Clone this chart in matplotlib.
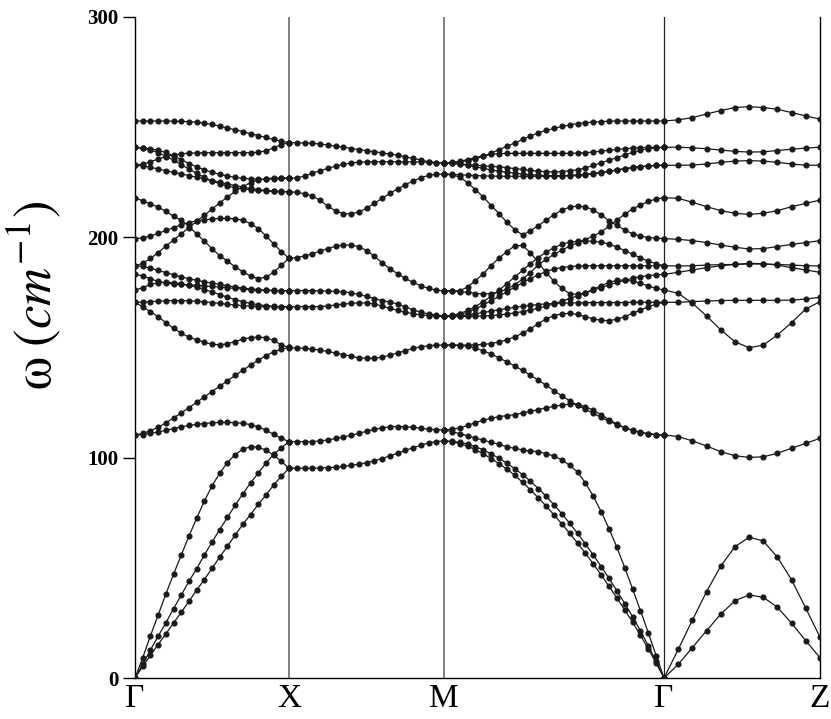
import numpy as np
import matplotlib
matplotlib.use("Agg")
import matplotlib.pyplot as plt

plt.rcParams['mathtext.fontset'] = 'stix'

# high-symmetry points and their path positions
labels = ['Γ', 'X', 'M', 'Γ', 'Z']
kpos = [0, 154, 309, 529, 685]

# frequencies (cm^-1), one list per band along each segment
gamma_x = [
    [252.8, 252.8, 252.8, 252.8, 252.8, 252.7, 252.6, 252.5, 252.3, 251.8, 251.2, 250.5, 249.6, 248.8, 248.0, 247.0, 246.2, 245.3, 244.4, 243.6, 243.0],
    [232.7, 233.2, 234.3, 235.5, 236.6, 237.4, 237.9, 238.2, 238.3, 238.4, 238.4, 238.4, 238.4, 238.4, 238.4, 238.4, 238.6, 239.3, 240.6, 242.1, 243.0],
    [240.8, 240.6, 240.2, 239.5, 238.5, 237.0, 235.2, 233.5, 232.0, 230.6, 229.5, 228.6, 227.8, 227.2, 226.8, 226.5, 226.4, 226.4, 226.5, 226.7, 226.8],
    [240.8, 240.4, 239.6, 238.4, 236.8, 235.0, 233.0, 231.0, 229.0, 227.2, 225.6, 224.3, 223.3, 222.5, 222.0, 221.6, 221.3, 221.0, 220.8, 220.7, 220.7],
    [232.7, 232.4, 231.8, 231.0, 230.2, 229.5, 228.8, 228.0, 227.3, 226.5, 225.7, 225.0, 224.2, 223.5, 222.8, 222.2, 221.7, 221.3, 221.0, 220.8, 220.7],
    [199.4, 199.7, 200.6, 201.8, 203.1, 204.4, 205.7, 206.7, 207.5, 208.0, 208.3, 208.6, 208.6, 208.4, 207.7, 206.2, 204.0, 200.7, 197.0, 193.5, 190.5],
    [218.0, 216.5, 215.2, 213.7, 211.8, 209.6, 207.8, 205.0, 201.5, 198.3, 194.8, 191.7, 189.2, 186.6, 184.4, 182.4, 181.3, 181.9, 184.2, 187.3, 190.5],
    [187.1, 188.2, 190.4, 193.1, 196.0, 198.8, 201.6, 204.4, 207.2, 210.0, 212.8, 215.6, 218.3, 220.8, 223.0, 224.8, 226.0, 226.6, 226.9, 226.9, 226.8],
    [187.1, 186.8, 186.0, 185.0, 184.0, 183.0, 182.0, 181.2, 180.5, 179.8, 179.2, 178.6, 178.0, 177.5, 177.0, 176.6, 176.3, 176.0, 175.9, 175.8, 175.8],
    [183.2, 182.5, 181.2, 180.0, 179.2, 178.8, 178.6, 178.4, 178.2, 178.0, 177.7, 177.4, 177.1, 176.8, 176.5, 176.2, 176.0, 175.9, 175.8, 175.8, 175.8],
    [176.0, 177.2, 178.6, 179.4, 179.6, 179.4, 178.9, 178.2, 177.3, 176.3, 175.2, 174.0, 172.8, 171.7, 170.8, 170.0, 169.4, 169.0, 168.7, 168.5, 168.5],
    [170.5, 170.6, 170.8, 171.0, 171.2, 171.3, 171.3, 171.2, 171.0, 170.7, 170.4, 170.0, 169.6, 169.3, 169.0, 168.8, 168.6, 168.5, 168.5, 168.5, 168.5],
    [170.5, 168.5, 166.2, 164.0, 161.3, 158.7, 156.5, 154.7, 153.5, 152.3, 151.5, 151.2, 151.7, 152.7, 153.8, 154.5, 154.7, 154.5, 153.2, 151.2, 150.0],
    [110.3, 111.0, 112.2, 113.8, 115.8, 118.0, 120.3, 122.7, 125.1, 127.6, 130.0, 132.4, 134.9, 137.3, 139.7, 142.0, 144.2, 146.3, 148.0, 149.3, 150.0],
    [110.3, 110.5, 111.0, 111.7, 112.4, 113.2, 114.0, 114.6, 115.1, 115.5, 115.8, 116.0, 116.0, 115.9, 115.6, 115.0, 114.0, 112.5, 110.6, 108.8, 107.3],
    [0.0, 9.2, 19.2, 28.6, 38.1, 47.1, 55.8, 64.4, 72.5, 80.3, 87.2, 93.0, 97.8, 101.4, 103.8, 105.0, 104.8, 103.4, 101.2, 98.3, 95.2],
    [0.0, 6.3, 12.7, 19.0, 25.0, 31.5, 37.6, 43.9, 49.6, 55.8, 61.7, 67.4, 72.9, 78.4, 83.6, 88.5, 93.0, 97.5, 101.5, 104.5, 107.3],
    [0.0, 5.3, 10.3, 15.2, 20.0, 25.0, 29.8, 34.8, 39.9, 44.7, 49.8, 54.9, 59.8, 64.9, 69.7, 74.2, 78.8, 83.0, 87.6, 91.5, 95.2],
]

x_m = [
    [243.0, 242.9, 242.8, 242.7, 242.3, 241.9, 241.4, 241.0, 240.3, 239.8, 239.3, 238.9, 238.3, 237.8, 237.3, 236.5, 235.8, 235.1, 234.3, 233.9, 233.8],
    [226.8, 227.0, 227.8, 229.1, 230.2, 231.3, 232.3, 233.1, 233.7, 234.1, 234.3, 234.3, 234.3, 234.3, 234.3, 234.3, 234.3, 234.2, 234.0, 233.9, 233.8],
    [220.7, 220.4, 219.8, 218.8, 216.8, 214.2, 212.0, 210.8, 210.6, 211.5, 213.2, 215.4, 217.7, 219.9, 222.0, 223.8, 225.6, 227.0, 228.1, 228.6, 228.7],
    [190.5, 190.8, 191.6, 192.5, 193.7, 194.9, 195.9, 196.5, 196.5, 195.8, 194.0, 191.4, 188.5, 185.8, 183.5, 181.4, 179.5, 178.0, 176.8, 176.0, 175.7],
    [175.8, 175.8, 175.8, 175.8, 175.7, 175.6, 175.5, 175.3, 174.8, 174.1, 173.2, 172.2, 171.3, 170.6, 169.8, 168.5, 167.0, 166.0, 165.2, 164.7, 164.3],
    [168.5, 168.5, 168.5, 168.5, 168.6, 168.8, 169.3, 169.7, 170.0, 170.3, 170.2, 169.8, 168.8, 167.8, 166.9, 166.0, 165.4, 164.8, 164.5, 164.2, 164.1],
    [149.9, 149.8, 149.6, 149.3, 148.8, 148.2, 147.5, 146.8, 146.0, 145.3, 145.1, 145.1, 145.6, 146.5, 147.5, 148.6, 149.6, 150.3, 150.8, 151.1, 151.1],
    [107.3, 107.3, 107.3, 107.3, 107.6, 108.0, 108.7, 109.3, 110.2, 111.0, 112.0, 112.8, 113.5, 114.0, 114.1, 114.0, 113.8, 113.3, 112.9, 112.7, 112.6],
    [95.2, 95.2, 95.2, 95.2, 95.3, 95.5, 95.7, 96.0, 96.5, 97.0, 97.7, 98.6, 99.6, 100.8, 102.0, 103.3, 104.5, 105.6, 106.7, 107.3, 107.6],
]

m_gamma = [
    [233.8, 233.9, 234.2, 234.8, 235.6, 236.8, 238.2, 239.8, 241.3, 242.8, 244.4, 246.0, 247.4, 248.5, 249.4, 250.3, 251.0, 251.6, 252.0, 252.3, 252.5, 252.7, 252.8, 252.8, 252.8, 252.8, 252.8, 252.8, 252.8],
    [233.8, 234.0, 234.5, 235.3, 236.2, 237.0, 237.6, 238.0, 238.1, 238.1, 238.1, 238.1, 238.1, 238.1, 238.1, 238.1, 238.1, 238.2, 238.4, 238.7, 239.1, 239.5, 239.9, 240.2, 240.5, 240.7, 240.8, 240.8, 240.8],
    [233.8, 233.6, 233.3, 233.0, 232.7, 232.4, 232.2, 232.0, 231.6, 231.2, 230.8, 230.4, 230.0, 229.8, 229.7, 229.8, 230.2, 230.6, 231.5, 232.6, 233.8, 235.0, 236.2, 237.4, 238.5, 239.5, 240.2, 240.6, 240.8],
    [233.8, 233.6, 233.2, 232.7, 232.0, 231.3, 230.6, 230.0, 229.5, 229.1, 228.7, 228.4, 228.2, 228.0, 228.0, 228.0, 228.1, 228.3, 228.6, 229.0, 229.5, 230.0, 230.6, 231.2, 231.7, 232.1, 232.4, 232.6, 232.7],
    [228.7, 228.6, 228.4, 228.2, 228.0, 227.9, 227.8, 227.7, 227.7, 227.7, 227.7, 227.7, 227.7, 227.7, 227.7, 227.8, 227.9, 228.1, 228.4, 228.8, 229.3, 229.9, 230.5, 231.1, 231.6, 232.0, 232.4, 232.6, 232.7],
    [228.7, 228.3, 227.4, 224.7, 221.6, 218.3, 214.4, 210.8, 206.8, 203.5, 201.1, 203.0, 205.3, 207.8, 210.3, 212.3, 213.7, 214.2, 213.8, 212.4, 210.2, 207.5, 205.4, 203.3, 201.6, 200.5, 199.9, 199.6, 199.4],
    [175.7, 175.7, 175.7, 177.5, 180.3, 183.5, 187.2, 190.6, 193.5, 196.2, 196.3, 193.0, 188.5, 184.0, 180.0, 176.8, 174.4, 174.1, 174.8, 176.4, 178.1, 179.5, 180.5, 180.6, 180.1, 179.1, 177.9, 176.8, 176.1],
    [175.7, 175.6, 175.4, 175.0, 174.5, 174.3, 174.5, 175.2, 176.5, 178.5, 181.0, 184.0, 187.5, 190.0, 192.3, 194.2, 196.0, 197.6, 199.0, 200.6, 202.5, 205.0, 207.8, 210.5, 212.8, 214.7, 216.3, 217.4, 218.0],
    [164.3, 164.5, 165.0, 166.0, 167.5, 169.3, 171.2, 173.2, 175.3, 177.4, 179.4, 181.3, 183.0, 184.5, 185.6, 186.3, 186.7, 187.0, 187.1, 187.1, 187.1, 187.1, 187.1, 187.1, 187.1, 187.1, 187.1, 187.1, 187.1],
    [164.3, 164.6, 165.4, 166.8, 168.6, 170.8, 173.3, 176.0, 179.0, 182.0, 185.0, 188.0, 190.8, 193.3, 195.3, 196.8, 197.8, 198.2, 198.3, 198.2, 197.8, 196.9, 195.6, 194.0, 192.3, 190.7, 189.2, 188.0, 187.1],
    [164.1, 164.1, 164.1, 164.1, 164.2, 164.3, 164.5, 164.8, 165.2, 165.7, 166.3, 167.0, 167.8, 168.8, 169.8, 171.0, 172.2, 173.5, 174.8, 176.0, 177.2, 178.4, 179.5, 180.5, 181.4, 182.1, 182.6, 183.0, 183.2],
    [164.1, 164.2, 164.4, 164.8, 165.3, 165.9, 166.5, 167.1, 167.7, 168.2, 168.7, 169.1, 169.5, 169.8, 170.0, 170.1, 170.2, 170.3, 170.3, 170.4, 170.4, 170.4, 170.4, 170.4, 170.5, 170.5, 170.5, 170.5, 170.5],
    [151.1, 151.1, 151.1, 151.1, 151.2, 151.4, 151.8, 152.5, 153.5, 154.8, 156.5, 158.5, 160.8, 163.0, 164.5, 165.3, 165.5, 165.0, 164.0, 163.0, 162.3, 162.2, 162.8, 164.0, 165.5, 167.0, 168.5, 169.7, 170.5],
    [151.1, 151.1, 150.9, 150.6, 149.7, 148.5, 147.0, 145.3, 143.5, 141.6, 139.6, 137.4, 135.2, 132.8, 130.4, 128.0, 125.8, 123.8, 121.9, 120.1, 118.3, 116.6, 115.0, 113.6, 112.3, 111.4, 110.8, 110.4, 110.3],
    [112.6, 112.9, 113.5, 114.6, 115.9, 117.0, 117.9, 118.6, 119.1, 119.5, 120.3, 121.0, 121.8, 122.6, 123.3, 123.9, 124.3, 124.1, 123.1, 121.5, 119.5, 117.3, 115.2, 113.6, 112.4, 111.5, 110.9, 110.5, 110.3],
    [112.6, 111.8, 110.9, 109.9, 108.9, 107.9, 107.0, 106.0, 105.0, 104.2, 103.5, 103.0, 102.7, 101.8, 100.7, 99.0, 96.5, 93.5, 88.5, 82.5, 75.5, 67.8, 59.3, 50.1, 40.4, 30.6, 20.5, 10.2, 0.0],
    [107.6, 107.4, 107.0, 106.2, 105.0, 103.5, 101.7, 99.7, 97.5, 95.0, 92.3, 89.3, 86.0, 82.5, 78.6, 74.5, 70.2, 65.6, 60.8, 55.8, 50.6, 45.2, 39.6, 33.8, 27.8, 21.4, 14.6, 7.5, 0.0],
    [107.6, 107.2, 106.4, 105.2, 103.6, 101.7, 99.6, 97.3, 94.8, 92.0, 88.8, 85.4, 81.8, 78.0, 74.0, 69.9, 65.6, 61.2, 56.6, 51.8, 46.8, 41.6, 36.3, 30.9, 25.3, 19.4, 13.2, 6.7, 0.0],
]

gamma_z = [
    [252.8, 253.3, 254.3, 256.0, 257.5, 258.9, 259.3, 258.9, 258.1, 256.6, 255.1, 253.6],
    [240.9, 240.9, 240.6, 240.2, 239.6, 239.0, 238.7, 238.8, 239.4, 240.0, 240.5, 240.9],
    [232.7, 232.7, 232.8, 233.3, 234.0, 234.6, 234.8, 234.6, 234.0, 233.3, 232.7, 232.7],
    [218.0, 217.7, 215.9, 213.9, 212.1, 210.9, 210.4, 210.9, 212.1, 213.9, 215.4, 216.9],
    [199.4, 199.1, 198.5, 197.6, 196.5, 195.5, 194.7, 194.9, 195.8, 196.8, 197.6, 198.5],
    [187.1, 187.0, 187.1, 187.4, 187.6, 187.7, 187.9, 187.9, 187.7, 187.4, 187.1, 187.0],
    [183.2, 184.1, 185.2, 186.2, 187.1, 187.7, 188.2, 188.0, 187.4, 186.2, 185.2, 184.1],
    [176.1, 174.6, 170.1, 164.3, 158.0, 152.6, 149.9, 151.1, 155.7, 161.3, 167.5, 170.8],
    [170.5, 170.5, 170.8, 171.1, 171.3, 171.4, 171.4, 171.4, 171.4, 171.5, 172.0, 172.8],
    [110.3, 109.6, 107.6, 105.3, 102.7, 100.9, 100.1, 100.4, 102.0, 104.3, 106.5, 108.8],
    [0.0, 13.0, 26.3, 39.2, 50.8, 59.6, 63.9, 62.2, 54.8, 44.5, 31.6, 18.5],
    [0.0, 6.2, 13.8, 21.5, 29.0, 35.1, 37.7, 36.6, 32.1, 24.8, 16.9, 9.2],
]

segments = [gamma_x, x_m, m_gamma, gamma_z]

fig = plt.figure(figsize=(8.31, 7.19), dpi=100)
ax = fig.add_axes([0.1625, 0.057, 0.8243, 0.9194])

for s, bands in enumerate(segments):
    for band in bands:
        k = np.linspace(kpos[s], kpos[s + 1], len(band))
        ax.plot(k, band, '-', color='#1a1a1a', lw=0.9, marker='o', ms=3.4,
                mfc='#1a1a1a', mec='#1a1a1a', zorder=3)

# separators at X and M are grey, the one at Gamma is black
ax.axvline(kpos[1], color='#6a6a6a', lw=1.2, zorder=1)
ax.axvline(kpos[2], color='#6a6a6a', lw=1.2, zorder=1)
ax.axvline(kpos[3], color='#222222', lw=0.9, zorder=1)

ax.set_xlim(kpos[0], kpos[-1])
ax.set_ylim(0, 300)
ax.set_xticks(kpos)
ax.set_xticklabels(labels, fontsize=24, family='Liberation Serif')
ax.set_yticks([0, 100, 200, 300])
ax.set_yticklabels(['0', '100', '200', '300'], fontsize=15,
                   family='Liberation Serif', fontweight='bold')
ax.tick_params(axis='x', length=0, pad=4)
ax.tick_params(axis='y', direction='out', length=9, width=1, pad=3)
ax.spines['top'].set_visible(False)
for sp in ['left', 'bottom', 'right']:
    ax.spines[sp].set_linewidth(1.0)

fig.text(34 / 831, 1 - 295 / 719, r'$\mathrm{\omega}\;(cm^{-1})$', fontsize=38,
         rotation=90, ha='center', va='center')

fig.savefig('out.png', dpi=100)
